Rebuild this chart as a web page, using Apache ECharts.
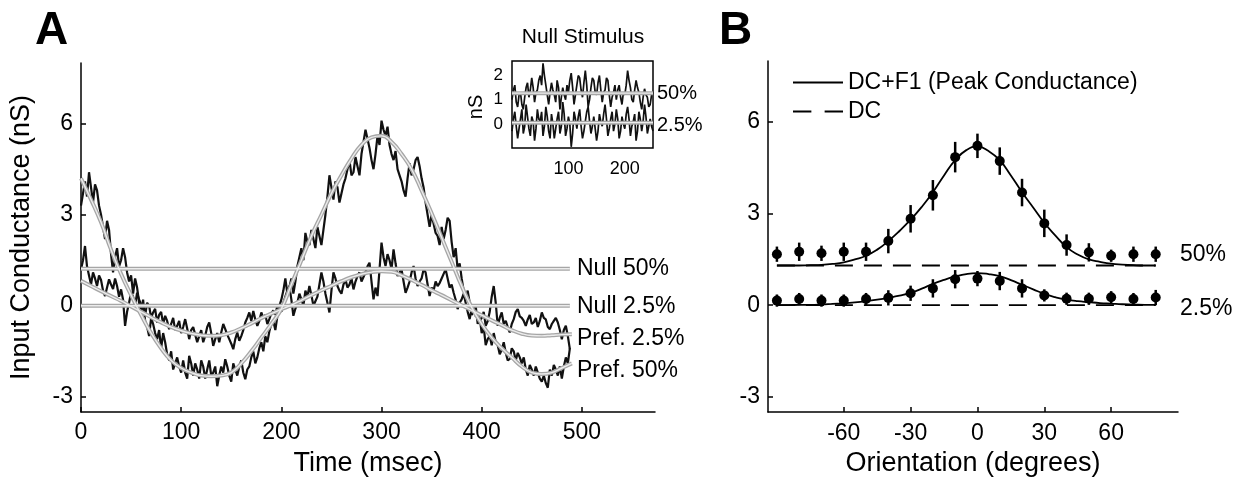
<!DOCTYPE html>
<html>
<head>
<meta charset="utf-8">
<script src="https://cdn.jsdelivr.net/npm/echarts@6/dist/echarts.min.js"></script>
<style>
  html, body { margin: 0; padding: 0; background: #fff; }
  #chart { width: 1257px; height: 482px; }
</style>
</head>
<body>
<div id="chart"></div>
<script>
// ---- panel A: conductance vs time, preferred stimulus (sampled every 2 ms) ----
const timeStep = 2;
const prefHigh = [
  3.3, 3.7, 4.1, 3.6, 4.4, 3.9, 3.4, 4.0, 3.8, 3.3, 3.0, 2.6, 2.2, 2.8, 2.5, 1.7, 1.1, 1.6, 1.9, 1.3,
  1.5, 1.9, 1.6, 1.1, 0.8, 1.0, 0.4, 0.9, 0.6, 0.1, -0.2, 0.2, -0.5, -0.7, -1.0, -0.4, -0.6, -0.9, -1.1, -0.8,
  -1.4, -0.9, -1.2, -1.6, -1.8, -1.5, -2.1, -1.9, -1.7, -2.0, -2.2, -1.8, -2.2, -2.4, -1.65, -1.9, -2.3, -1.9, -2.1, -2.4,
  -1.8, -2.0, -2.4, -2.1, -1.8, -2.3, -2.2, -2.0, -2.65, -2.3, -2.0, -2.2, -1.76, -2.0, -2.3, -2.5, -1.9, -2.1, -2.3, -2.0,
  -1.8, -2.2, -2.42, -2.1, -2.0, -1.7, -1.5, -1.9, -1.7, -1.4, -1.2, -1.5, -1.0, -1.2, -0.85, -0.6, -0.5, -0.8, -0.35, 0.0,
  0.2, 0.5, 0.9, 0.4, 0.6, 0.9, 0.4, 0.8, 1.3, 1.6, 1.9, 1.5, 2.4, 2.1, 2.0, 2.5, 2.2, 1.9, 2.6, 2.3,
  2.0, 2.5, 3.0, 3.6, 4.3, 3.9, 3.5, 4.1, 3.9, 3.4, 3.7, 4.0, 4.2, 4.5, 4.8, 4.3, 4.4, 4.9, 4.6, 4.3,
  5.0, 5.4, 5.8, 5.5, 5.2, 4.8, 4.5, 5.0, 5.6, 5.3, 6.1, 5.8, 5.6, 5.9, 5.3, 5.0, 4.8, 5.1, 4.5, 4.3,
  4.1, 3.8, 3.6, 4.2, 4.7, 4.3, 4.5, 4.8, 4.9, 4.6, 4.2, 3.9, 3.4, 3.0, 2.6, 3.0, 2.7, 2.4, 2.3, 2.0,
  2.6, 2.2, 2.5, 2.9, 2.8, 2.1, 1.6, 1.9, 1.2, 1.4, 0.9, 0.5, 0.2, 0.5, 0.1, -0.3, -0.2, 0.0, -0.6, -0.4,
  -0.9, -0.7, -1.3, -1.1, -1.0, -1.3, -0.9, -1.2, -1.3, -1.6, -1.45, -1.2, -1.55, -1.8, -1.75, -1.4, -1.5, -1.8, -1.55, -1.7,
  -1.9, -1.7, -2.1, -2.3, -1.95, -2.1, -2.3, -2.0, -2.2, -2.4, -2.5, -2.3, -2.55, -2.7, -2.1, -2.3, -1.95, -2.1, -2.3, -2.0,
  -2.4, -2.0, -1.7, -1.9, -1.4
];
const prefLow = [
  1.2, 1.5, 1.97, 1.3, 1.0, 0.7, 1.1, 0.9, 0.65, 1.0, 0.85, 0.5, 0.32, 0.6, 0.87, 0.7, 0.55, 0.9, 0.65, 0.3,
  0.54, 0.2, -0.66, -0.2, 0.1, 0.45, 0.3, 0.0, 0.43, 0.2, 0.05, -0.1, -0.33, 0.1, 0.0, -0.4, -0.22, -0.1, -0.55, -0.3,
  -0.2, -0.6, -0.33, -0.5, -0.77, -0.6, -0.4, -0.8, -0.66, -0.5, -0.9, -0.7, -0.44, -0.75, -1.1, -0.8, -0.7, -0.95, -1.2, -1.0,
  -0.8, -1.2, -0.99, -0.7, -0.55, -0.9, -1.32, -1.1, -0.9, -1.2, -0.88, -0.6, -0.77, -0.95, -1.1, -1.25, -1.43, -1.1, -0.88, -1.15,
  -1.0, -0.8, -0.55, -0.4, -0.22, -0.5, -0.17, -0.45, -0.66, -0.5, -0.22, -0.4, -0.3, -0.6, -0.44, -0.25, -0.15, -0.3, 0.0, -0.1,
  -0.2, 0.1, 0.3, 0.5, 0.65, 0.2, -0.33, -0.1, 0.1, 0.4, 0.21, 0.0, 0.5, 0.3, 0.65, 0.35, 0.0, 0.15, 0.3, 0.7,
  1.1, 0.8, 0.4, 0.1, -0.22, 0.5, 1.1, 0.9, 0.65, 0.5, 0.4, 0.7, 0.87, 0.6, 0.7, 0.9, 0.54, 0.8, 0.98, 1.1,
  0.8, 0.95, 1.1, 1.3, 1.42, 0.8, 0.21, 0.6, 0.32, 1.2, 2.08, 1.6, 1.31, 1.7, 1.5, 1.2, 1.86, 1.4, 0.98, 1.1,
  1.2, 0.8, 0.43, 0.6, 0.8, 1.1, 1.31, 0.9, 0.65, 0.8, 0.9, 1.2, 1.1, 0.7, 0.32, 0.6, 0.5, 0.8, 0.65, 0.75,
  0.9, 1.05, 1.2, 0.9, 0.6, 0.7, 0.43, 0.2, -0.11, 0.1, 0.21, 0.4, 0.1, -0.2, -0.44, -0.1, 0.0, -0.35, -0.22, -0.5,
  -0.4, -0.2, -0.66, -0.5, -0.2, 0.3, 0.65, 0.1, -0.66, -0.4, -0.22, -0.6, -0.5, -0.7, -0.88, -0.6, -0.44, -0.2, -0.11, -0.35,
  -0.4, -0.5, -0.66, -0.45, -0.3, -0.6, -0.55, -0.4, -0.7, -0.5, -0.22, -0.4, -0.45, -0.7, -0.77, -0.6, -0.5, -0.4, -0.55, -0.8,
  -1.1, -0.8, -0.66, -1.0, -1.43
];
const fitTimes = [0, 10, 20, 30, 40, 50, 60, 70, 80, 90, 100, 110, 120, 130, 140, 150, 160, 170, 180, 190,
  200, 210, 220, 230, 240, 250, 260, 270, 280, 290, 300, 310, 320, 330, 340, 350, 360, 370, 380, 390,
  400, 410, 420, 430, 440, 450, 460, 470, 480, 490];
const fitHigh = [
  4.2, 3.5, 2.75, 1.85, 1.05, 0.35, -0.3, -0.9, -1.4, -1.8,
  -2.05, -2.2, -2.3, -2.32, -2.3, -2.2, -1.9, -1.5, -1.05, -0.6,
  -0.1, 0.7, 1.5, 2.3, 3.0, 3.7, 4.3, 4.85, 5.3, 5.55,
  5.6, 5.4, 5.0, 4.5, 3.8, 3.05, 2.25, 1.45, 0.65, -0.05,
  -0.6, -1.05, -1.4, -1.7, -2.0, -2.2, -2.25, -2.2, -2.05, -1.9
];
const fitLow = [
  0.82, 0.65, 0.48, 0.32, 0.16, -0.02, -0.2, -0.38, -0.55, -0.7,
  -0.82, -0.91, -0.97, -0.99, -0.97, -0.88, -0.74, -0.58, -0.41, -0.26,
  -0.12, 0.02, 0.18, 0.35, 0.51, 0.66, 0.81, 0.94, 1.04, 1.11,
  1.14, 1.12, 1.0, 0.85, 0.69, 0.51, 0.35, 0.18, 0.02, -0.15,
  -0.31, -0.48, -0.64, -0.8, -0.92, -0.98, -0.99, -0.97, -0.95, -0.94
];
const nullTimes = [0, 488];
const nullHigh = [1.22, 1.22];
const nullLow = [0, 0];
const timeTicks = [0, 100, 200, 300, 400, 500];
const condTicks = [-3, 0, 3, 6];

// ---- inset: null stimulus (sampled every 2.5 ms) ----
const insetStep = 2.5;
const insetHigh = [
  1.0, 1.4, 1.6, 0.9, 0.7, 1.2, 1.3, 0.8, 0.6, 1.1,
  1.5, 1.7, 1.1, 1.4, 1.9, 1.5, 0.9, 1.3, 1.4, 1.8,
  2.0, 1.6, 2.5, 2.0, 1.6, 1.2, 0.8, 1.3, 1.7, 1.4,
  1.2, 0.9, 1.8, 1.5, 0.6, 1.1, 1.5, 1.2, 1.0, 1.6,
  1.3, 1.8, 2.1, 1.5, 0.8, 1.2, 1.6, 2.0, 1.9, 1.4,
  1.1, 1.7, 2.2, 1.6, 0.7, 1.0, 1.5, 1.9, 1.8, 1.3,
  1.2, 1.7, 2.0, 1.4, 0.9, 1.3, 1.4, 1.9, 1.8, 1.2,
  0.7, 1.1, 1.3, 1.6, 1.0, 1.4, 1.6, 1.1, 0.8, 1.3,
  1.2, 1.6, 2.2, 1.8, 1.5, 1.0, 0.9, 1.4, 1.8, 1.5,
  1.3, 0.9, 0.6, 1.1, 1.45, 1.2, 1.1, 0.7, 0.8, 1.2,
  1.3
];
const insetLow = [
  -0.3, 0.2, 0.5, -0.1, -0.6, -0.2, 0.2, 0.6, -0.4, -0.1,
  0.8, 0.3, -0.2, -0.5, 0.3, 0.1, -0.7, -0.2, 0.6, 0.2,
  0.1, 0.5, -0.5, -0.1, 0.7, 0.3, -0.3, -0.6, 0.4, 0.0,
  -0.6, -0.2, 0.2, 0.5, -0.4, -0.1, 0.9, 0.4, -0.5, -0.2,
  0.3, 0.0, -0.95, -0.4, 0.5, 0.2, -0.2, 0.3, 0.6, -0.1,
  -0.6, -0.3, 0.1, 0.5, 0.7, 0.1, -0.4, -0.1, 0.3, -0.2,
  -0.7, -0.3, 0.4, 0.1, -0.1, 0.4, 0.8, 0.2, -0.5, -0.2,
  0.2, 0.5, -0.3, 0.0, 0.6, 0.2, -0.6, -0.3, 0.3, 0.0,
  -0.2, 0.4, 0.7, 0.2, -0.5, -0.1, 0.1, 0.4, -0.7, -0.3,
  0.5, 0.2, -0.3, 0.1, 0.8, 0.3, -0.4, -0.1, 0.2, -0.1,
  -0.3
];
const insetNullTimes = [0, 250];
const insetNullHigh = [1.27, 1.27];
const insetNullLow = [0.05, 0.05];
const insetXTicks = [100, 200];
const insetYTicks = [0, 1, 2];

// ---- panel B: orientation tuning ----
const angles = [-90, -80, -70, -60, -50, -40, -30, -20, -10, 0, 10, 20, 30, 40, 50, 60, 70, 80];
const peak50 = [1.67, 1.75, 1.7, 1.75, 1.75, 2.1, 2.83, 3.6, 4.85, 5.22, 4.72, 3.69, 2.68, 1.97, 1.73, 1.62, 1.67, 1.67];
const peak50Err = [0.25, 0.3, 0.25, 0.3, 0.3, 0.4, 0.45, 0.5, 0.5, 0.4, 0.45, 0.45, 0.45, 0.35, 0.3, 0.2, 0.25, 0.25];
const peak25 = [0.15, 0.2, 0.15, 0.15, 0.2, 0.24, 0.39, 0.55, 0.85, 0.87, 0.79, 0.55, 0.32, 0.21, 0.21, 0.26, 0.2, 0.25];
const peak25Err = [0.2, 0.2, 0.2, 0.2, 0.2, 0.25, 0.25, 0.3, 0.3, 0.25, 0.3, 0.3, 0.2, 0.2, 0.2, 0.2, 0.2, 0.25];
const fitAngles = [-90, -85, -80, -75, -70, -65, -60, -55, -50, -45, -40, -35, -30, -25, -20, -15, -10, -5,
  0, 5, 10, 15, 20, 25, 30, 35, 40, 45, 50, 55, 60, 65, 70, 75, 80];
const fit50 = [
  1.3, 1.3, 1.3, 1.31, 1.32, 1.35, 1.4, 1.5, 1.62, 1.82,
  2.1, 2.43, 2.8, 3.22, 3.7, 4.25, 4.75, 5.08, 5.2, 5.05,
  4.75, 4.25, 3.7, 3.2, 2.7, 2.28, 1.9, 1.66, 1.5, 1.42,
  1.36, 1.33, 1.31, 1.3, 1.3
];
const fit25 = [
  0, 0, 0.01, 0.01, 0.02, 0.04, 0.06, 0.09, 0.13, 0.18,
  0.24, 0.31, 0.4, 0.54, 0.7, 0.83, 0.94, 1.02, 1.05, 1.02,
  0.95, 0.82, 0.67, 0.52, 0.37, 0.26, 0.18, 0.13, 0.1, 0.07,
  0.05, 0.03, 0.02, 0.01, 0.01
];
const dcAngles = [-90, 80];
const dc50 = [1.3, 1.3];
const dc25 = [0, 0];
const angleTicks = [-60, -30, 0, 30, 60];

const FONT = 'Liberation Sans, Arial, Helvetica, sans-serif';

function pairs(xs, ys) {
  return xs.map((x, i) => [x, ys[i]]);
}
function sampled(ys, step) {
  return ys.map((y, i) => [i * step, y]);
}

function blackTrace(data, xi, width) {
  return {
    type: 'line', xAxisIndex: xi, yAxisIndex: xi, data: data,
    showSymbol: false, symbol: 'none', silent: true,
    lineStyle: { color: '#111', width: width }, z: 2
  };
}
// gray "halftone" line: gray band with a lighter centre
function grayLine(data, xi, smooth) {
  return [
    { type: 'line', xAxisIndex: xi, yAxisIndex: xi, data: data, smooth: smooth, symbol: 'none', silent: true,
      lineStyle: { color: '#a6a6a6', width: 4 }, z: 3 },
    { type: 'line', xAxisIndex: xi, yAxisIndex: xi, data: data, smooth: smooth, symbol: 'none', silent: true,
      lineStyle: { color: '#ececec', width: 1.4 }, z: 4 }
  ];
}
function errorBars(xs, ys, errs) {
  return {
    type: 'custom', xAxisIndex: 2, yAxisIndex: 2,
    data: xs.map((x, i) => [x, ys[i] - errs[i], ys[i] + errs[i]]),
    encode: { x: 0, y: [1, 2] },
    renderItem(params, api) {
      const lo = api.coord([api.value(0), api.value(1)]);
      const hi = api.coord([api.value(0), api.value(2)]);
      return {
        type: 'line',
        shape: { x1: lo[0], y1: lo[1], x2: hi[0], y2: hi[1] },
        style: { stroke: '#000', lineWidth: 2.5 }
      };
    },
    silent: true, z: 5
  };
}

const axisLine = { show: true, onZero: false, lineStyle: { color: '#000', width: 1.5 } };
const tickStyle = { color: '#000', width: 1.5 };

function text(x, y, str, size, extra) {
  return {
    type: 'text', x: x, y: y,
    style: Object.assign({
      text: str, fill: '#000', fontSize: size, fontFamily: FONT,
      align: 'left', verticalAlign: 'middle'
    }, extra || {})
  };
}

const chart = echarts.init(document.getElementById('chart'));

const option = {
  animation: false,
  backgroundColor: '#fff',
  grid: [
    { left: 81, top: 63, width: 574, height: 349, outerBoundsMode: 'none' },
    { left: 512, top: 61, width: 141, height: 87, show: true, borderColor: '#000', borderWidth: 1.5, backgroundColor: 'transparent', outerBoundsMode: 'none' },
    { left: 768, top: 61, width: 410, height: 351, outerBoundsMode: 'none' }
  ],
  xAxis: [
    {
      gridIndex: 0, type: 'value', min: 0, max: 573,
      axisLine: axisLine,
      axisTick: { inside: true, length: 5, customValues: timeTicks, lineStyle: tickStyle },
      axisLabel: { customValues: timeTicks, margin: 9, color: '#000', fontSize: 23, fontFamily: FONT },
      splitLine: { show: false },
      name: 'Time (msec)', nameLocation: 'middle', nameGap: 38,
      nameTextStyle: { color: '#000', fontSize: 27, fontFamily: FONT, verticalAlign: 'top' }
    },
    {
      gridIndex: 1, type: 'value', min: 0, max: 250,
      axisLine: { show: false }, axisTick: { show: false },
      axisLabel: { customValues: insetXTicks, margin: 12, color: '#000', fontSize: 18, fontFamily: FONT },
      splitLine: { show: false }
    },
    {
      gridIndex: 2, type: 'value', min: -94, max: 90,
      axisLine: axisLine,
      axisTick: { inside: true, length: 5, customValues: angleTicks, lineStyle: tickStyle },
      axisLabel: { customValues: angleTicks, margin: 10, color: '#000', fontSize: 23, fontFamily: FONT },
      splitLine: { show: false },
      name: 'Orientation (degrees)', nameLocation: 'middle', nameGap: 27,
      nameTextStyle: { color: '#000', fontSize: 27, fontFamily: FONT, verticalAlign: 'top' }
    }
  ],
  yAxis: [
    {
      gridIndex: 0, type: 'value', min: -3.5, max: 8,
      axisLine: axisLine,
      axisTick: { inside: true, length: 5, customValues: condTicks, lineStyle: tickStyle },
      axisLabel: { customValues: condTicks, margin: 8, color: '#000', fontSize: 23, fontFamily: FONT },
      splitLine: { show: false },
      name: 'Input Conductance (nS)', nameLocation: 'middle', nameGap: 46,
      nameTextStyle: { color: '#000', fontSize: 27, fontFamily: FONT }
    },
    {
      gridIndex: 1, type: 'value', min: -1, max: 2.6,
      axisLine: { show: false }, axisTick: { show: false },
      axisLabel: { customValues: insetYTicks, margin: 9, color: '#000', fontSize: 17, fontFamily: FONT },
      splitLine: { show: false }
    },
    {
      gridIndex: 2, type: 'value', min: -3.5, max: 8,
      axisLine: axisLine,
      axisTick: { inside: true, length: 5, customValues: condTicks, lineStyle: tickStyle },
      axisLabel: { customValues: condTicks, margin: 8, color: '#000', fontSize: 23, fontFamily: FONT },
      splitLine: { show: false }
    }
  ],
  legend: {
    left: 788, top: 66, orient: 'vertical',
    itemWidth: 50, itemHeight: 14, itemGap: 6,
    selectedMode: false,
    data: [
      { name: 'DC+F1 (Peak Conductance)', icon: 'path://M0,0 L50,0 L50,2 L0,2 Z' },
      { name: 'DC', icon: 'path://M0,0 L18,0 L18,2 L0,2 Z M31,0 L49,0 L49,2 L31,2 Z' }
    ],
    itemStyle: { color: '#000' },
    textStyle: { color: '#000', fontSize: 23, fontFamily: FONT }
  },
  graphic: [
    text(35, 31, 'A', 46, { fontWeight: 'bold' }),
    text(719, 31, 'B', 46, { fontWeight: 'bold' }),
    text(583, 37, 'Null Stimulus', 21, { align: 'center' }),
    Object.assign(text(476, 107, 'nS', 20, { align: 'center' }), { rotation: Math.PI / 2 }),
    text(657, 93, '50%', 20),
    text(657, 125, '2.5%', 20),
    text(577, 269, 'Null 50%', 23),
    text(577, 307, 'Null 2.5%', 23),
    text(577, 339, 'Pref. 2.5%', 23),
    text(577, 371, 'Pref. 50%', 23),
    text(1180, 255, '50%', 23),
    text(1180, 309, '2.5%', 23)
  ],
  series: [
    blackTrace(sampled(prefHigh, timeStep), 0, 2.2),
    blackTrace(sampled(prefLow, timeStep), 0, 2.2),
    ...grayLine(pairs(nullTimes, nullHigh), 0, false),
    ...grayLine(pairs(nullTimes, nullLow), 0, false),
    ...grayLine(pairs(fitTimes, fitHigh), 0, true),
    ...grayLine(pairs(fitTimes, fitLow), 0, true),

    blackTrace(sampled(insetHigh, insetStep), 1, 1.7),
    blackTrace(sampled(insetLow, insetStep), 1, 1.7),
    ...grayLine(pairs(insetNullTimes, insetNullHigh), 1, false),
    ...grayLine(pairs(insetNullTimes, insetNullLow), 1, false),

    {
      name: 'DC+F1 (Peak Conductance)', type: 'line', xAxisIndex: 2, yAxisIndex: 2,
      data: pairs(fitAngles, fit50), smooth: true, symbol: 'none',
      lineStyle: { color: '#000', width: 1.8 }, itemStyle: { color: '#000' }, z: 3
    },
    {
      name: 'DC+F1 (Peak Conductance)', type: 'line', xAxisIndex: 2, yAxisIndex: 2,
      data: pairs(fitAngles, fit25), smooth: true, symbol: 'none',
      lineStyle: { color: '#000', width: 1.8 }, itemStyle: { color: '#000' }, z: 3
    },
    {
      name: 'DC', type: 'line', xAxisIndex: 2, yAxisIndex: 2,
      data: pairs(dcAngles, dc50), symbol: 'none',
      lineStyle: { color: '#000', width: 1.8, type: [18, 11] }, itemStyle: { color: '#000' }, z: 3
    },
    {
      name: 'DC', type: 'line', xAxisIndex: 2, yAxisIndex: 2,
      data: pairs(dcAngles, dc25), symbol: 'none',
      lineStyle: { color: '#000', width: 1.8, type: [18, 11] }, itemStyle: { color: '#000' }, z: 3
    },
    errorBars(angles, peak50, peak50Err),
    errorBars(angles, peak25, peak25Err),
    {
      type: 'scatter', xAxisIndex: 2, yAxisIndex: 2, data: pairs(angles, peak50),
      symbol: 'circle', symbolSize: 10, itemStyle: { color: '#000', opacity: 1 }, silent: true, z: 6
    },
    {
      type: 'scatter', xAxisIndex: 2, yAxisIndex: 2, data: pairs(angles, peak25),
      symbol: 'circle', symbolSize: 10, itemStyle: { color: '#000', opacity: 1 }, silent: true, z: 6
    }
  ]
};

chart.setOption(option);
</script>
</body>
</html>
